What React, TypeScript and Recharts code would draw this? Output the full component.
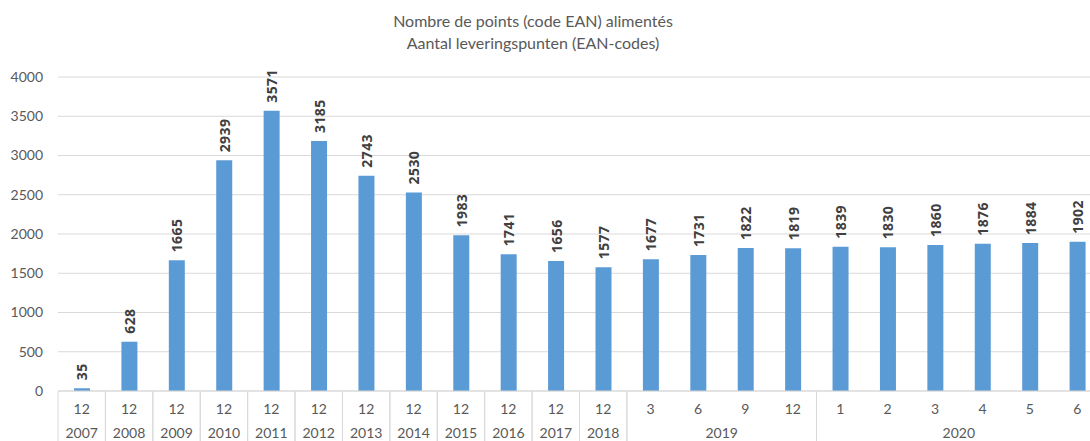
import React from "react";
import { BarChart, Bar, XAxis, YAxis, CartesianGrid, LabelList } from "recharts";

const months = ["12","12","12","12","12","12","12","12","12","12","12","12","3","6","9","12","1","2","3","4","5","6"];
const years = ["2007","2008","2009","2010","2011","2012","2013","2014","2015","2016","2017","2018","2019","2019","2019","2019","2020","2020","2020","2020","2020","2020"];
const values = [35,628,1665,2939,3571,3185,2743,2530,1983,1741,1656,1577,1677,1731,1822,1819,1839,1830,1860,1876,1884,1902];
const yTicks = [0,500,1000,1500,2000,2500,3000,3500,4000];
const titleLines = ["Nombre de points (code EAN) alimentés", "Aantal leveringspunten (EAN-codes)"];

const data = months.map((m, i) => ({ key: i, month: m, year: years[i], value: values[i] }));

const CHART_W = 1101;
const CHART_H = 441;
const MARGIN = { top: 77, right: 0, left: 0, bottom: 0 };
const Y_W = 58;
const X_H = 50;
const BAND = (CHART_W - MARGIN.left - MARGIN.right - Y_W) / data.length;
const AXIS_COLOR = "#D9D9D9";
const TEXT_COLOR = "#595959";
const FONT = "Lato, 'Open Sans', sans-serif";

const XTick = (props: any) => {
  const { x, y, payload } = props;
  const i = payload.index;
  const year = years[i];
  const isStart = i === 0 || years[i - 1] !== year;
  let span = 1;
  if (isStart) {
    while (i + span < years.length && years[i + span] === year) span++;
  }
  const left = x - BAND / 2;
  return (
    <g>
      <text x={x} y={y + 17} textAnchor="middle" dominantBaseline="central" fill={TEXT_COLOR} fontSize={14} fontFamily={FONT}>
        {payload.value}
      </text>
      {isStart && (
        <g>
          <line x1={left} x2={left} y1={y} y2={y + X_H} stroke={AXIS_COLOR} strokeWidth={1} />
          <line x1={left + span * BAND} x2={left + span * BAND} y1={y} y2={y + X_H} stroke={AXIS_COLOR} strokeWidth={1} />
          <text x={left + (span * BAND) / 2} y={y + 41} textAnchor="middle" dominantBaseline="central" fill={TEXT_COLOR} fontSize={14} fontFamily={FONT}>
            {year}
          </text>
        </g>
      )}
    </g>
  );
};

const ValueLabel = (props: any) => {
  const { x, y, width, value } = props;
  const cx = x + width / 2;
  const ty = y - 8;
  return (
    <text
      x={cx}
      y={ty}
      transform={`rotate(-90, ${cx}, ${ty})`}
      textAnchor="start"
      dominantBaseline="central"
      fill="#404040"
      fontSize={14}
      fontWeight="bold"
      letterSpacing={0.4}
      fontFamily="'Open Sans', sans-serif"
    >
      {value}
    </text>
  );
};

export default function App() {
  return (
    <div style={{ position: "absolute", left: 0, top: 0, width: 1090, height: 441, overflow: "hidden", background: "#fff" }}>
      <svg width={1090} height={60} style={{ position: "absolute", left: 0, top: 0 }}>
        {titleLines.map((t, i) => (
          <text key={i} x={533} y={27 + i * 22} textAnchor="middle" fill={TEXT_COLOR} fontSize={16} fontFamily={FONT}>
            {t}
          </text>
        ))}
      </svg>
      <div style={{ position: "absolute", left: 0, top: 0 }}>
        <BarChart width={CHART_W} height={CHART_H} data={data} margin={MARGIN} barCategoryGap={0}>
          <CartesianGrid vertical={false} stroke={AXIS_COLOR} />
          <XAxis
            dataKey="month"
            interval={0}
            height={X_H}
            tickSize={0}
            tickMargin={0}
            tickLine={false}
            axisLine={{ stroke: AXIS_COLOR }}
            tick={<XTick />}
          />
          <YAxis
            domain={[0, 4000]}
            ticks={yTicks}
            width={Y_W}
            tickSize={0}
            tickMargin={15}
            axisLine={false}
            tickLine={false}
            tick={{ fill: TEXT_COLOR, fontSize: 14, fontFamily: FONT }}
          />
          <Bar dataKey="value" fill="#5B9BD5" barSize={16} isAnimationActive={false}>
            <LabelList dataKey="value" content={<ValueLabel />} />
          </Bar>
        </BarChart>
      </div>
    </div>
  );
}
